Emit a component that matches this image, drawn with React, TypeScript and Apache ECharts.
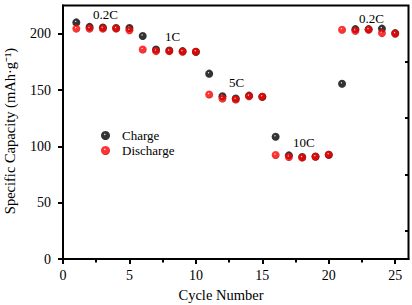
import React, { useEffect, useRef } from "react";
import * as echarts from "echarts";

const cycles = [1, 2, 3, 4, 5, 6, 7, 8, 9, 10, 11, 12, 13, 14, 15, 16, 17, 18, 19, 20, 21, 22, 23, 24, 25];
const charge = [210, 206, 205.5, 205, 205, 198, 186, 185, 184.5, 184, 164.5, 144.5, 142.5, 145, 144, 108.5, 92, 90.5, 91, 92.5, 155.5, 204, 204, 204.5, 200.5];
const discharge = [204.5, 204.5, 204.5, 204.5, 203, 186, 184.5, 184.5, 184, 184, 146, 142.5, 141.5, 144.5, 144, 92.3, 90.5, 90, 90.8, 92.6, 203.5, 202.5, 203.5, 200.5, 200];
const xTicks = [0, 5, 10, 15, 20, 25];
const xMinor = [2.5, 7.5, 12.5, 17.5, 22.5];
const yTicks = [0, 50, 100, 150, 200];
const yMinor = [25, 75, 125, 175];
const rateLabels = [
  { text: "0.2C", x: 93, y: 15 },
  { text: "1C", x: 165, y: 37 },
  { text: "5C", x: 229, y: 83 },
  { text: "10C", x: 293, y: 143 },
  { text: "0.2C", x: 359, y: 19 },
];

const FONT = "Liberation Serif";
const W = 412;
const H = 305;

export default function App() {
  const ref = useRef<HTMLDivElement>(null);
  useEffect(() => {
    if (!ref.current) return;
    const chart = echarts.init(ref.current, undefined, { renderer: "svg" });
    const ball = (mid: string, edge: string) =>
      new echarts.graphic.RadialGradient(0.42, 0.38, 0.62, [
        { offset: 0, color: "#ffffff" },
        { offset: 0.22, color: mid },
        { offset: 0.75, color: mid },
        { offset: 1, color: edge },
      ]);
    const blackBall = ball("#000000", "#000000");
    const redBall = ball("#ff0000", "#b00000");
    const grid = { left: 63, right: 3.5, top: 5.5, bottom: 46 };
    const gw = W - grid.left - grid.right;
    const gh = H - grid.top - grid.bottom;
    const axisText = { fontFamily: FONT, fontSize: 14, color: "#000" };
    chart.setOption({
      animation: false,
      grid: { ...grid, show: true, borderColor: "#000", borderWidth: 2 },
      legend: {
        orient: "vertical",
        left: 96,
        top: 124,
        itemWidth: 9,
        itemHeight: 9,
        itemGap: 2,
        icon: "circle",
        textStyle: { fontFamily: FONT, fontSize: 13, color: "#000", padding: [0, 0, 0, 7] },
        data: ["Charge", "Discharge"],
      },
      xAxis: [
        {
          type: "value",
          min: 0,
          max: 26,
          interval: 5,
          position: "bottom",
          axisLine: { show: true, lineStyle: { color: "#000", width: 2 } },
          axisTick: { show: true, length: 5, lineStyle: { color: "#000", width: 2 }, customValues: xTicks },
          axisLabel: { ...axisText, margin: 9, customValues: xTicks },
          splitLine: { show: false },
        },
        {
          type: "value",
          min: 0,
          max: 26,
          position: "top",
          offset: -gh,
          axisLine: { show: false },
          axisTick: { show: true, inside: true, length: 3.5, lineStyle: { color: "#000", width: 2 }, customValues: xMinor },
          axisLabel: { show: false },
          splitLine: { show: false },
        },
      ],
      yAxis: [
        {
          type: "value",
          min: 0,
          max: 225,
          interval: 50,
          position: "left",
          axisLine: { show: true, lineStyle: { color: "#000", width: 2 } },
          axisTick: { show: true, length: 5, lineStyle: { color: "#000", width: 2 }, customValues: yTicks },
          axisLabel: { ...axisText, margin: 12, customValues: yTicks },
          splitLine: { show: false },
        },
        {
          type: "value",
          min: 0,
          max: 225,
          position: "right",
          offset: -gw,
          axisLine: { show: false },
          axisTick: { show: true, inside: true, length: 3.5, lineStyle: { color: "#000", width: 2 }, customValues: yMinor },
          axisLabel: { show: false },
          splitLine: { show: false },
        },
      ],
      series: [
        {
          name: "Charge",
          type: "scatter",
          symbol: "circle",
          symbolSize: 8,
          itemStyle: { color: blackBall },
          data: cycles.map((c, i) => [c, charge[i]]),
        },
        {
          name: "Discharge",
          type: "scatter",
          symbol: "circle",
          symbolSize: 8,
          itemStyle: { color: redBall },
          data: cycles.map((c, i) => [c, discharge[i]]),
        },
      ],
      graphic: [
        ...rateLabels.map((l) => ({
          type: "text",
          left: l.x,
          top: l.y - 7,
          style: { text: l.text, font: `13px '${FONT}'`, fill: "#000" },
        })),
        {
          type: "text",
          x: 221,
          y: 295,
          style: { text: "Cycle Number", font: `14.5px '${FONT}'`, fill: "#000", align: "center", verticalAlign: "middle" },
        },
        {
          type: "text",
          x: 10,
          y: 131,
          rotation: Math.PI / 2,
          style: {
            text: "Specific Capacity (mAh·g⁻¹)",
            font: `14.5px '${FONT}'`,
            fill: "#000",
            align: "center",
            verticalAlign: "middle",
          },
        },
      ],
    });
    return () => chart.dispose();
  }, []);
  return <div ref={ref} style={{ width: W, height: H, position: "absolute", left: 0, top: 0 }} />;
}
